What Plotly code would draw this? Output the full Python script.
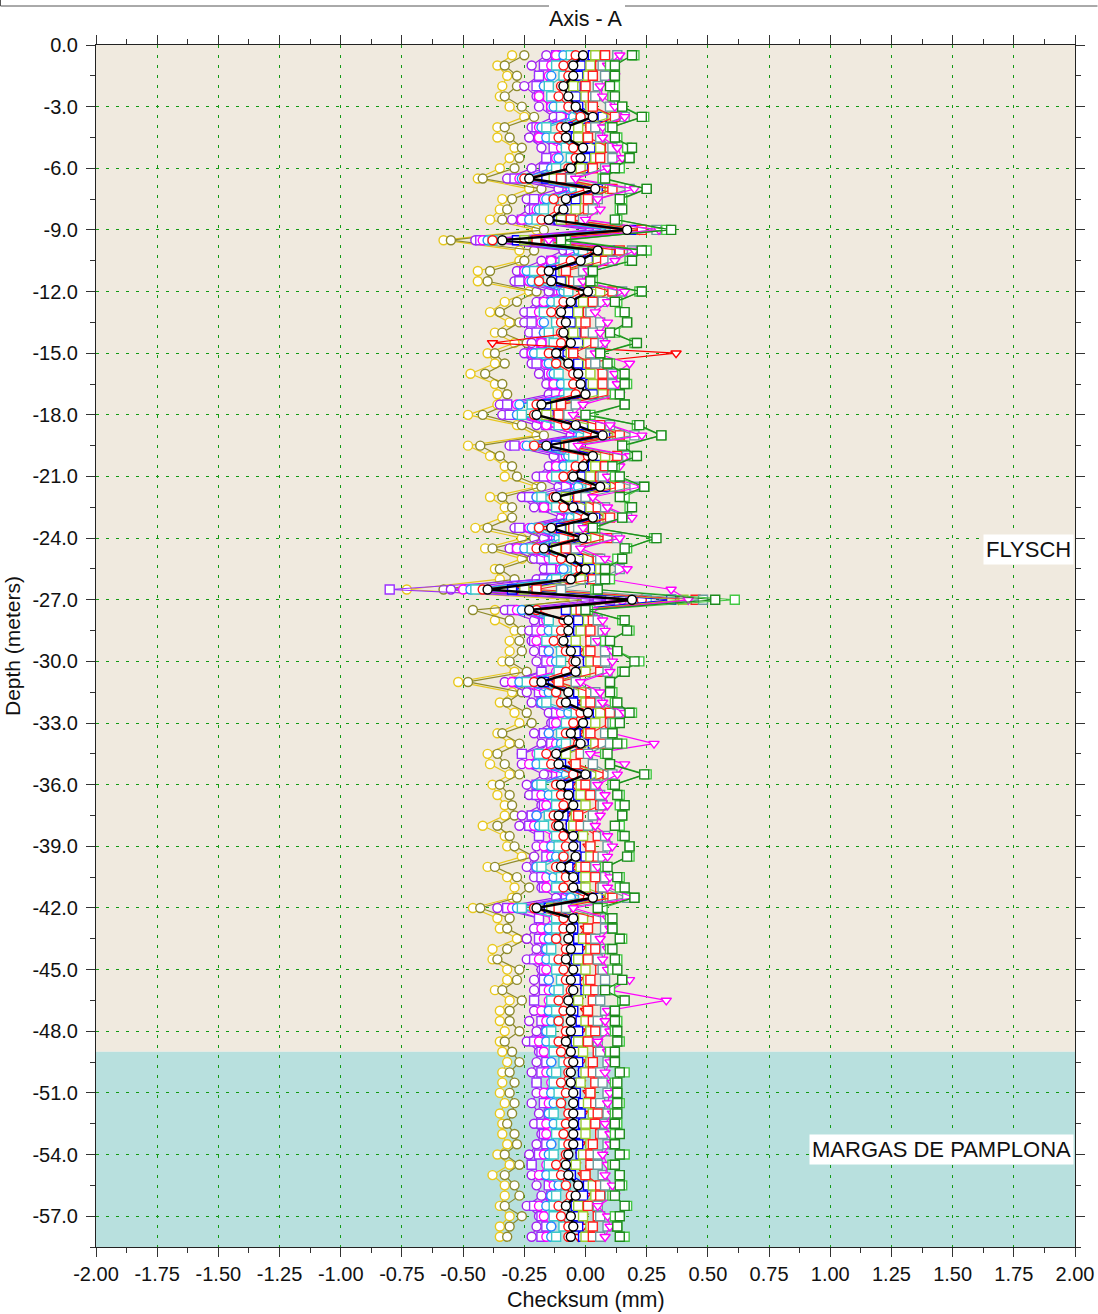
import plotly.graph_objects as go

# ---------------- data ----------------
DEPTH = [round(-0.5 * k, 1) for k in range(1, 117)]

YELLOW = [-0.30,-0.36,-0.32,-0.34,-0.35,-0.31,-0.25,-0.36,-0.36,-0.29,
 -0.31,-0.35,-0.44,-0.23,-0.34,-0.35,-0.39,-0.20,-0.58,-0.27,
 -0.27,-0.44,-0.44,-0.23,-0.33,-0.39,-0.31,-0.37,-0.29,-0.40,
 -0.37,-0.47,-0.37,-0.36,-0.36,-0.48,-0.28,-0.20,-0.48,-0.39,
 -0.33,-0.33,-0.20,-0.39,-0.33,-0.34,-0.45,-0.26,-0.41,-0.26,
 -0.37,-0.35,-0.73,-0.05,-0.37,-0.37,-0.29,-0.31,-0.31,-0.34,
 -0.29,-0.52,-0.30,-0.35,-0.29,-0.27,-0.36,-0.31,-0.40,-0.39,
 -0.31,-0.38,-0.36,-0.33,-0.33,-0.42,-0.33,-0.32,-0.26,-0.40,
 -0.32,-0.29,-0.30,-0.46,-0.36,-0.35,-0.28,-0.38,-0.38,-0.32,
 -0.32,-0.37,-0.31,-0.35,-0.35,-0.33,-0.35,-0.34,-0.32,-0.34,
 -0.34,-0.35,-0.33,-0.35,-0.34,-0.34,-0.32,-0.36,-0.31,-0.38,
 -0.33,-0.33,-0.35,-0.31,-0.35,-0.35]

OLIVE = [-0.25,-0.33,-0.28,-0.28,-0.33,-0.26,-0.21,-0.33,-0.31,-0.26,
 -0.27,-0.29,-0.42,-0.18,-0.30,-0.32,-0.34,-0.17,-0.55,-0.21,
 -0.25,-0.39,-0.40,-0.20,-0.28,-0.35,-0.27,-0.34,-0.24,-0.37,
 -0.33,-0.41,-0.34,-0.32,-0.32,-0.42,-0.26,-0.17,-0.43,-0.35,
 -0.30,-0.28,-0.18,-0.34,-0.30,-0.30,-0.40,-0.21,-0.38,-0.22,
 -0.35,-0.29,-0.58,0.00,-0.46,-0.31,-0.26,-0.27,-0.26,-0.31,
 -0.24,-0.48,-0.26,-0.32,-0.24,-0.22,-0.34,-0.27,-0.36,-0.33,
 -0.27,-0.35,-0.31,-0.30,-0.29,-0.36,-0.31,-0.29,-0.21,-0.37,
 -0.28,-0.23,-0.28,-0.43,-0.31,-0.32,-0.24,-0.32,-0.36,-0.27,
 -0.28,-0.34,-0.26,-0.31,-0.31,-0.27,-0.33,-0.30,-0.27,-0.31,
 -0.29,-0.31,-0.29,-0.30,-0.32,-0.29,-0.28,-0.33,-0.27,-0.33,
 -0.29,-0.27,-0.33,-0.26,-0.31,-0.32]

PURPLE_C = [-0.16,-0.22,-0.19,-0.25,-0.20,-0.19,-0.13,-0.22,-0.23,-0.18,
 -0.16,-0.22,-0.32,-0.11,-0.24,-0.23,-0.30,0.02,-0.45,-0.09,
 -0.18,-0.28,-0.29,-0.15,-0.20,-0.25,-0.25,-0.23,-0.22,-0.25,
 -0.22,-0.19,-0.16,-0.15,-0.35,-0.34,-0.20,-0.06,-0.31,-0.13,
 -0.15,-0.20,-0.11,-0.26,-0.21,-0.10,-0.29,-0.17,-0.31,-0.21,
 -0.17,-0.20,-0.55,0.05,-0.33,-0.21,-0.23,-0.22,-0.21,-0.20,
 -0.18,-0.33,-0.24,-0.22,-0.15,-0.14,-0.21,-0.18,-0.26,-0.26,
 -0.17,-0.24,-0.23,-0.18,-0.26,-0.27,-0.19,-0.20,-0.21,-0.24,
 -0.21,-0.18,-0.12,-0.36,-0.19,-0.21,-0.24,-0.20,-0.24,-0.18,
 -0.21,-0.21,-0.21,-0.21,-0.23,-0.20,-0.24,-0.19,-0.20,-0.22,
 -0.20,-0.20,-0.22,-0.19,-0.21,-0.18,-0.20,-0.23,-0.22,-0.22,
 -0.20,-0.18,-0.24,-0.19,-0.20,-0.22]

PURPLE_S = [-0.12,-0.17,-0.19,-0.20,-0.19,-0.14,-0.10,-0.20,-0.19,-0.13,
 -0.16,-0.17,-0.29,-0.06,-0.21,-0.21,-0.26,0.05,-0.43,-0.06,
 -0.14,-0.25,-0.27,-0.11,-0.17,-0.22,-0.22,-0.20,-0.18,-0.22,
 -0.20,-0.15,-0.13,-0.12,-0.32,-0.31,-0.16,-0.03,-0.29,-0.09,
 -0.12,-0.17,-0.08,-0.23,-0.17,-0.07,-0.27,-0.13,-0.28,-0.18,
 -0.14,-0.17,-0.80,0.10,-0.30,-0.17,-0.20,-0.21,-0.17,-0.16,
 -0.18,-0.29,-0.19,-0.18,-0.12,-0.13,-0.17,-0.14,-0.26,-0.22,
 -0.12,-0.20,-0.20,-0.17,-0.22,-0.23,-0.19,-0.16,-0.16,-0.20,
 -0.18,-0.17,-0.08,-0.32,-0.19,-0.17,-0.19,-0.16,-0.21,-0.17,
 -0.17,-0.17,-0.21,-0.17,-0.18,-0.16,-0.21,-0.18,-0.16,-0.18,
 -0.20,-0.16,-0.17,-0.15,-0.18,-0.17,-0.16,-0.19,-0.22,-0.18,
 -0.15,-0.14,-0.21,-0.18,-0.16,-0.18]

MAGENTA_C = [-0.12,-0.14,-0.15,-0.17,-0.19,-0.14,-0.06,-0.19,-0.19,-0.10,
 -0.12,-0.14,-0.27,-0.06,-0.17,-0.20,-0.26,0.08,-0.42,-0.03,
 -0.14,-0.25,-0.23,-0.10,-0.17,-0.19,-0.18,-0.17,-0.18,-0.22,
 -0.16,-0.14,-0.13,-0.09,-0.28,-0.28,-0.16,-0.03,-0.25,-0.08,
 -0.12,-0.14,-0.04,-0.20,-0.17,-0.07,-0.23,-0.12,-0.28,-0.15,
 -0.10,-0.14,-0.50,0.15,-0.28,-0.16,-0.18,-0.20,-0.15,-0.14,
 -0.12,-0.30,-0.17,-0.17,-0.10,-0.12,-0.15,-0.12,-0.20,-0.23,
 -0.10,-0.19,-0.18,-0.16,-0.20,-0.21,-0.13,-0.17,-0.14,-0.19,
 -0.16,-0.16,-0.06,-0.30,-0.13,-0.18,-0.17,-0.15,-0.19,-0.16,
 -0.15,-0.15,-0.15,-0.18,-0.16,-0.15,-0.19,-0.17,-0.14,-0.16,
 -0.14,-0.17,-0.15,-0.14,-0.16,-0.16,-0.14,-0.17,-0.16,-0.19,
 -0.13,-0.13,-0.19,-0.17,-0.14,-0.16]

BLUE_C = [-0.09,-0.12,-0.14,-0.17,-0.13,-0.13,-0.05,-0.18,-0.16,-0.08,
 -0.11,-0.14,-0.26,-0.05,-0.16,-0.19,-0.23,0.10,-0.40,-0.03,
 -0.08,-0.24,-0.22,-0.09,-0.14,-0.17,-0.17,-0.17,-0.12,-0.21,
 -0.15,-0.13,-0.10,-0.07,-0.27,-0.28,-0.10,-0.02,-0.24,-0.07,
 -0.09,-0.12,-0.03,-0.20,-0.11,-0.06,-0.22,-0.11,-0.25,-0.13,
 -0.09,-0.14,-0.47,0.20,-0.26,-0.15,-0.15,-0.16,-0.15,-0.12,
 -0.10,-0.27,-0.15,-0.18,-0.07,-0.08,-0.15,-0.10,-0.18,-0.20,
 -0.08,-0.20,-0.15,-0.12,-0.20,-0.19,-0.11,-0.14,-0.12,-0.20,
 -0.13,-0.12,-0.06,-0.28,-0.11,-0.15,-0.15,-0.16,-0.16,-0.12,
 -0.15,-0.13,-0.13,-0.15,-0.14,-0.16,-0.16,-0.13,-0.14,-0.14,
 -0.12,-0.14,-0.13,-0.15,-0.13,-0.12,-0.14,-0.15,-0.14,-0.16,
 -0.11,-0.14,-0.16,-0.13,-0.14,-0.14]

CYAN_S = [-0.06,-0.12,-0.09,-0.15,-0.14,-0.10,-0.02,-0.16,-0.13,-0.08,
 -0.06,-0.12,-0.24,-0.02,-0.13,-0.17,-0.20,0.12,-0.38,-0.01,
 -0.09,-0.21,-0.19,-0.07,-0.11,-0.17,-0.12,-0.15,-0.13,-0.18,
 -0.12,-0.11,-0.07,-0.07,-0.22,-0.26,-0.11,0.01,-0.21,-0.05,
 -0.06,-0.12,0.02,-0.18,-0.12,-0.03,-0.19,-0.09,-0.22,-0.13,
 -0.04,-0.12,-0.45,0.25,-0.22,-0.15,-0.12,-0.16,-0.10,-0.10,
 -0.11,-0.24,-0.12,-0.16,-0.04,-0.08,-0.10,-0.08,-0.19,-0.17,
 -0.05,-0.18,-0.12,-0.12,-0.15,-0.17,-0.12,-0.11,-0.09,-0.18,
 -0.10,-0.12,-0.01,-0.26,-0.12,-0.12,-0.12,-0.14,-0.13,-0.12,
 -0.10,-0.11,-0.14,-0.12,-0.11,-0.14,-0.13,-0.13,-0.09,-0.12,
 -0.13,-0.11,-0.10,-0.13,-0.10,-0.12,-0.09,-0.13,-0.15,-0.13,
 -0.08,-0.12,-0.13,-0.13,-0.09,-0.12]

RED_C = [-0.04,-0.09,-0.07,-0.10,-0.11,-0.07,-0.02,-0.10,-0.11,-0.05,
 -0.04,-0.07,-0.25,0.01,-0.13,-0.11,-0.18,0.15,-0.38,0.04,
 -0.06,-0.18,-0.19,-0.01,-0.09,-0.14,-0.10,-0.10,-0.10,-0.15,
 -0.12,-0.05,-0.05,-0.04,-0.20,-0.21,-0.08,0.04,-0.21,0.01,
 -0.04,-0.09,0.04,-0.13,-0.09,0.00,-0.19,-0.03,-0.20,-0.10,
 -0.02,-0.07,-0.42,0.23,-0.20,-0.09,-0.10,-0.13,-0.08,-0.05,
 -0.08,-0.21,-0.12,-0.10,-0.02,-0.05,-0.08,-0.03,-0.16,-0.14,
 -0.05,-0.12,-0.10,-0.09,-0.13,-0.12,-0.09,-0.08,-0.09,-0.12,
 -0.08,-0.09,0.01,-0.21,-0.09,-0.09,-0.12,-0.08,-0.11,-0.09,
 -0.08,-0.06,-0.11,-0.09,-0.11,-0.08,-0.11,-0.10,-0.07,-0.07,
 -0.10,-0.08,-0.10,-0.07,-0.08,-0.09,-0.07,-0.08,-0.12,-0.10,
 -0.08,-0.06,-0.11,-0.10,-0.07,-0.07]

RED_T = [0.04,-0.01,-0.02,-0.04,-0.03,0.02,0.06,-0.04,-0.03,0.03,
 0.01,-0.01,-0.15,0.10,-0.05,-0.05,-0.10,0.22,-0.27,0.10,
 0.02,-0.09,-0.11,0.05,-0.01,-0.06,-0.05,-0.04,-0.38,0.37,
 -0.04,0.01,0.03,0.04,-0.15,-0.15,0.00,0.13,-0.13,0.07,
 0.04,-0.01,0.09,-0.07,-0.01,0.09,-0.11,0.03,-0.12,-0.02,
 0.03,-0.01,-0.28,0.38,-0.06,-0.02,-0.02,-0.05,-0.03,0.01,
 0.00,-0.12,-0.04,-0.04,0.06,0.03,-0.03,0.03,-0.08,-0.05,
 0.03,-0.06,-0.02,-0.01,-0.08,-0.06,-0.01,0.01,-0.01,-0.06,
 0.00,-0.01,0.06,-0.15,-0.01,0.00,-0.04,-0.02,-0.03,-0.01,
 -0.03,0.00,-0.03,0.00,-0.03,-0.02,-0.03,-0.02,-0.02,-0.01,
 -0.02,0.01,-0.02,-0.01,0.00,-0.01,-0.02,-0.02,-0.04,-0.01,
 0.00,0.00,-0.03,-0.01,-0.01,-0.03]

BLUE_S = [0.03,-0.02,-0.03,-0.04,-0.04,-0.03,0.07,-0.05,-0.04,0.02,
 0.00,-0.01,-0.16,0.05,-0.04,-0.06,-0.11,0.20,-0.28,0.10,
 0.01,-0.14,-0.10,0.04,-0.02,-0.07,-0.06,-0.04,-0.03,-0.11,
 -0.03,0.00,0.02,0.03,-0.16,-0.15,-0.01,0.08,-0.12,0.06,
 0.03,-0.02,0.08,-0.07,-0.02,0.04,-0.10,0.02,-0.13,-0.03,
 0.02,-0.01,-0.30,0.35,-0.08,-0.03,-0.03,-0.06,-0.04,0.01,
 -0.01,-0.17,-0.03,-0.05,0.05,0.02,-0.04,0.03,-0.09,-0.10,
 0.04,-0.07,-0.03,-0.02,-0.09,-0.06,-0.02,-0.04,0.00,-0.07,
 -0.01,-0.02,0.05,-0.15,-0.02,-0.05,-0.03,-0.03,-0.04,-0.02,
 -0.04,0.00,-0.04,-0.05,-0.02,-0.03,-0.04,-0.03,-0.03,-0.01,
 -0.03,-0.04,-0.01,-0.02,-0.01,-0.02,-0.03,-0.02,-0.05,-0.06,
 0.01,-0.01,-0.04,-0.03,-0.03,-0.01]

YGREEN_S = [0.04,0.02,0.01,-0.05,0.00,0.02,0.11,-0.03,-0.03,0.06,
 0.04,-0.02,-0.13,0.10,0.00,-0.04,-0.10,0.23,-0.25,0.09,
 0.05,-0.09,-0.06,0.06,-0.01,-0.03,-0.02,-0.05,0.01,-0.06,
 0.01,0.02,0.03,0.07,-0.12,-0.16,0.03,0.13,-0.08,0.08,
 0.04,0.02,0.12,-0.08,0.02,0.09,-0.06,0.04,-0.12,0.01,
 0.06,-0.02,-0.25,0.40,-0.04,0.01,-0.02,-0.04,0.01,0.02,
 0.00,-0.11,-0.01,0.00,0.06,0.04,0.01,0.04,-0.08,-0.04,
 0.06,-0.02,-0.02,0.00,-0.04,-0.05,-0.01,0.02,0.02,-0.02,
 0.00,0.00,0.10,-0.14,-0.01,0.01,-0.01,0.02,-0.03,0.00,
 0.01,0.01,-0.03,0.01,0.00,0.02,-0.03,-0.01,0.02,0.00,
 -0.02,0.02,0.01,0.03,0.00,0.00,0.02,-0.01,-0.04,0.00,
 0.03,0.04,-0.03,-0.01,0.02,0.00]

RED_S = [0.08,0.06,0.03,0.00,0.03,0.03,0.12,0.02,0.01,0.10,
 0.06,0.03,-0.10,0.11,0.01,0.01,-0.06,0.23,-0.20,0.14,
 0.08,-0.08,-0.05,0.11,0.03,0.01,0.00,0.00,0.04,-0.05,
 0.02,0.07,0.07,0.11,-0.10,-0.11,0.06,0.14,-0.07,0.13,
 0.08,0.06,0.14,-0.03,0.05,0.10,-0.05,0.09,-0.08,0.05,
 0.08,0.03,-0.20,0.45,-0.02,0.03,0.02,0.02,0.02,0.05,
 0.06,-0.11,0.02,0.02,0.10,0.10,0.02,0.07,-0.02,-0.04,
 0.09,0.00,0.02,0.06,-0.03,-0.02,0.05,0.02,0.05,0.00,
 0.04,0.06,0.11,-0.11,0.05,0.01,0.02,0.04,0.01,0.06,
 0.02,0.04,0.03,0.01,0.03,0.04,0.01,0.05,0.03,0.03,
 0.04,0.02,0.04,0.05,0.04,0.06,0.03,0.02,0.02,0.00,
 0.06,0.06,0.01,0.05,0.03,0.03]

SLATE_S = [0.13,0.07,0.08,0.05,0.04,0.10,0.16,0.04,0.06,0.11,
 0.11,0.08,-0.06,0.18,0.05,0.03,-0.01,0.29,-0.15,0.19,
 0.11,-0.01,-0.03,0.15,0.07,0.02,0.06,0.03,0.07,0.02,
 0.04,0.11,0.11,0.12,-0.04,-0.07,0.10,0.20,-0.05,0.17,
 0.12,0.07,0.20,0.00,0.08,0.17,-0.03,0.13,-0.04,0.06,
 0.14,0.06,-0.10,0.48,0.02,0.05,0.07,0.04,0.08,0.08,
 0.09,-0.04,0.04,0.06,0.14,0.11,0.08,0.10,0.01,0.03,
 0.11,0.04,0.06,0.07,0.03,0.01,0.08,0.09,0.07,0.04,
 0.08,0.07,0.17,-0.08,0.08,0.08,0.04,0.08,0.05,0.07,
 0.08,0.07,0.06,0.08,0.05,0.08,0.05,0.06,0.09,0.06,
 0.07,0.09,0.06,0.09,0.08,0.07,0.09,0.05,0.05,0.07,
 0.08,0.10,0.05,0.06,0.09,0.06]

MAGENTA_T = [0.14,0.09,0.12,0.06,0.07,0.12,0.16,0.07,0.07,0.13,
 0.15,0.09,-0.04,0.20,0.05,0.06,0.00,0.30,-0.15,0.20,
 0.12,0.01,-0.01,0.16,0.09,0.04,0.09,0.06,0.08,0.04,
 0.18,0.12,0.13,0.14,-0.01,-0.05,0.10,0.23,-0.03,0.18,
 0.14,0.09,0.23,0.03,0.09,0.19,-0.01,0.14,-0.02,0.08,
 0.17,0.09,0.35,0.42,0.03,0.07,0.08,0.05,0.11,0.11,
 0.10,-0.02,0.06,0.07,0.16,0.13,0.11,0.28,0.02,0.16,
 0.13,0.05,0.08,0.09,0.06,0.04,0.09,0.11,0.09,0.05,
 0.10,0.09,0.20,-0.05,0.09,0.10,0.06,0.09,0.07,0.09,
 0.18,0.10,0.33,0.09,0.08,0.10,0.05,0.09,0.10,0.08,
 0.11,0.10,0.09,0.11,0.08,0.10,0.10,0.07,0.09,0.08,
 0.11,0.12,0.05,0.09,0.10,0.08]

LIME_S = [0.20,0.10,0.12,0.12,0.11,0.15,0.24,0.10,0.13,0.17,
 0.18,0.14,0.07,0.25,0.15,0.14,0.13,0.33,-0.08,0.25,
 0.18,0.03,0.03,0.22,0.13,0.14,0.17,0.12,0.20,0.06,
 0.10,0.15,0.17,0.12,0.16,0.02,0.21,0.31,0.16,0.20,
 0.12,0.12,0.24,0.16,0.18,0.15,0.04,0.28,0.17,0.13,
 0.08,0.10,0.04,0.61,0.01,0.15,0.18,0.08,0.13,0.22,
 0.15,0.10,0.11,0.12,0.19,0.12,0.11,0.15,0.08,0.10,
 0.25,0.11,0.14,0.14,0.15,0.14,0.15,0.18,0.18,0.08,
 0.14,0.14,0.20,0.07,0.10,0.11,0.15,0.10,0.13,0.11,
 0.15,0.10,0.15,0.12,0.13,0.12,0.14,0.10,0.12,0.16,
 0.12,0.13,0.14,0.12,0.13,0.12,0.12,0.16,0.11,0.14,
 0.15,0.11,0.17,0.12,0.13,0.16]

GREEN_S = [0.19,0.12,0.12,0.10,0.12,0.15,0.23,0.11,0.12,0.19,
 0.18,0.12,0.08,0.25,0.14,0.15,0.12,0.35,-0.10,0.23,
 0.19,0.03,0.02,0.23,0.12,0.16,0.17,0.10,0.21,0.06,
 0.09,0.16,0.16,0.14,0.16,0.00,0.22,0.31,0.15,0.21,
 0.11,0.14,0.24,0.14,0.19,0.15,0.03,0.29,0.16,0.15,
 0.08,0.08,0.05,0.53,0.00,0.16,0.17,0.10,0.13,0.20,
 0.16,0.10,0.10,0.13,0.18,0.14,0.11,0.13,0.09,0.10,
 0.24,0.12,0.13,0.16,0.15,0.12,0.16,0.18,0.17,0.09,
 0.13,0.16,0.20,0.05,0.11,0.11,0.14,0.11,0.12,0.13,
 0.15,0.08,0.16,0.12,0.12,0.13,0.13,0.12,0.12,0.14,
 0.13,0.13,0.13,0.13,0.12,0.14,0.12,0.14,0.12,0.14,
 0.14,0.12,0.16,0.14,0.13,0.14]

BLACK_C = [-0.01,-0.05,-0.05,-0.09,-0.07,-0.04,0.03,-0.08,-0.08,-0.01,
 -0.02,-0.06,-0.23,0.04,-0.08,-0.09,-0.15,0.17,-0.34,0.05,
 -0.02,-0.15,-0.14,0.01,-0.06,-0.10,-0.08,-0.09,-0.06,-0.12,
 -0.07,-0.03,-0.02,0.00,-0.18,-0.20,-0.04,0.07,-0.16,0.03,
 -0.01,-0.05,0.06,-0.12,-0.05,0.03,-0.14,-0.01,-0.17,-0.06,
 0.00,-0.06,-0.40,0.19,-0.23,-0.07,-0.07,-0.09,-0.06,-0.04,
 -0.04,-0.18,-0.07,-0.08,0.01,-0.01,-0.06,-0.02,-0.12,-0.11,
 0.00,-0.10,-0.07,-0.05,-0.11,-0.11,-0.05,-0.05,-0.04,-0.10,
 -0.05,-0.05,0.03,-0.20,-0.05,-0.06,-0.07,-0.06,-0.08,-0.05,
 -0.06,-0.05,-0.07,-0.06,-0.06,-0.06,-0.08,-0.06,-0.05,-0.06,
 -0.06,-0.05,-0.05,-0.05,-0.05,-0.05,-0.05,-0.07,-0.08,-0.07,
 -0.03,-0.04,-0.08,-0.06,-0.05,-0.06]

XTICKS = [-2.0,-1.75,-1.5,-1.25,-1.0,-0.75,-0.5,-0.25,0.0,0.25,0.5,0.75,1.0,1.25,1.5,1.75,2.0]
XTICKTEXT = ["-2.00","-1.75","-1.50","-1.25","-1.00","-0.75","-0.50","-0.25","0.00",
             "0.25","0.50","0.75","1.00","1.25","1.50","1.75","2.00"]
YTICKS = [0,-3,-6,-9,-12,-15,-18,-21,-24,-27,-30,-33,-36,-39,-42,-45,-48,-51,-54,-57]
YTICKTEXT = ["0.0","-3.0","-6.0","-9.0","-12.0","-15.0","-18.0","-21.0","-24.0","-27.0",
             "-30.0","-33.0","-36.0","-39.0","-42.0","-45.0","-48.0","-51.0","-54.0","-57.0"]

LAYER_NAMES = ["FLYSCH", "MARGAS DE PAMPLONA"]
LAYER_TOP = [0.0, -49.0]
LAYER_BOTTOM = [-49.0, -58.5]
LAYER_LABEL_DEPTH = [-24.57, -53.77]

# ---------------- styles ----------------
STYLES = [
    (YELLOW, "#E8C81C", "circle", 1.2),
    (OLIVE, "#8E8B2C", "circle", 1.2),
    (PURPLE_C, "#A020F0", "circle", 1.2),
    (PURPLE_S, "#9B30FF", "square", 1.2),
    (MAGENTA_C, "#FF00FF", "circle", 1.2),
    (BLUE_C, "#1E90FF", "circle", 1.2),
    (CYAN_S, "#3CC8C8", "square", 1.2),
    (RED_C, "#FF1010", "circle", 1.2),
    (RED_T, "#FF0000", "triangle-down", 1.2),
    (BLUE_S, "#0000FF", "square", 1.2),
    (YGREEN_S, "#9ACD32", "square", 1.2),
    (RED_S, "#FF2020", "square", 1.2),
    (SLATE_S, "#6C9A9C", "square", 1.2),
    (MAGENTA_T, "#FF00FF", "triangle-down", 1.2),
    (LIME_S, "#44C844", "square", 1.2),
    (GREEN_S, "#1E8C1E", "square", 1.2),
    (BLACK_C, "#000000", "circle", 2.4),
]
LAYER_COLORS = ["#F0EADF", "#B8E0DE"]

fig = go.Figure()
for vals, color, sym, lw in STYLES:
    fig.add_trace(go.Scatter(
        x=vals, y=DEPTH, mode="lines+markers",
        line=dict(color=color, width=lw),
        marker=dict(symbol=sym, size=9, color="white",
                    line=dict(color=color, width=1.4)),
        showlegend=False, hoverinfo="skip",
    ))

shapes = []
for top, bot, col in zip(LAYER_TOP, LAYER_BOTTOM, LAYER_COLORS):
    shapes.append(dict(type="rect", xref="x domain", yref="y", x0=0, x1=1,
                       y0=bot, y1=top, fillcolor=col, line=dict(width=0),
                       layer="below"))

# group-box frame at top of the figure (pixel -> paper conversion)
L, R, T, B, W, H = 96, 1075, 45, 1247, 1098, 1314
def px(x):
    return (x - L) / (R - L)
def py(y):
    return (B - y) / (B - T)
for x0, x1 in [(0.5, 549), (625, 1097.5)]:
    shapes.append(dict(type="line", xref="paper", yref="paper",
                       x0=px(x0), x1=px(x1), y0=py(6), y1=py(6),
                       line=dict(color="#555555", width=1)))
shapes.append(dict(type="line", xref="paper", yref="paper",
                   x0=px(0.5), x1=px(0.5), y0=py(0), y1=py(6),
                   line=dict(color="#555555", width=1)))

annotations = []
for name, yd in zip(LAYER_NAMES, LAYER_LABEL_DEPTH):
    annotations.append(dict(text=name, xref="paper", yref="y", x=1, y=yd,
                            xanchor="right", yanchor="middle", xshift=-1,
                            showarrow=False, bgcolor="white", borderpad=2,
                            font=dict(size=22, color="#111111")))
annotations.append(dict(text="Axis - A", xref="paper", yref="paper",
                        x=0.5, y=py(19), xanchor="center", yanchor="middle",
                        showarrow=False, font=dict(size=21.5, color="#111111")))
annotations.append(dict(text="Checksum (mm)", xref="paper", yref="paper",
                        x=0.5, y=py(1300), xanchor="center", yanchor="middle",
                        showarrow=False, font=dict(size=21.5, color="#111111")))
annotations.append(dict(text="Depth (meters)", xref="paper", yref="paper",
                        x=px(12), y=0.5, xanchor="center", yanchor="middle",
                        textangle=-90, showarrow=False,
                        font=dict(size=21, color="#111111")))

grid = dict(showgrid=True, gridcolor="#139A13", gridwidth=1, griddash="3px,7px")
fig.update_layout(
    width=W, height=H, autosize=False,
    margin=dict(l=L, r=W - R, t=T, b=H - B, pad=0, autoexpand=False),
    paper_bgcolor="white", plot_bgcolor="white",
    font=dict(family="Liberation Sans, Arial, sans-serif", size=20, color="#111111"),
    shapes=shapes, annotations=annotations, showlegend=False,
    xaxis=dict(range=[-2, 2], tickmode="array", tickvals=XTICKS, ticktext=XTICKTEXT,
               ticks="outside", ticklen=9, tickcolor="#333333", tickwidth=1,
               minor=dict(tickmode="linear", tick0=0, dtick=0.125, ticks="outside",
                          ticklen=5, tickcolor="#333333", showgrid=False),
               showline=True, linecolor="#222222", linewidth=1, mirror="ticks",
               zeroline=False, automargin=False, **grid),
    yaxis=dict(range=[-58.5, 0], tickmode="array", tickvals=YTICKS, ticktext=YTICKTEXT,
               ticks="outside", ticklen=9, tickcolor="#333333", tickwidth=1,
               ticklabelstandoff=4,
               minor=dict(tickmode="linear", tick0=0, dtick=1.5, ticks="outside",
                          ticklen=5, tickcolor="#333333", showgrid=False),
               showline=True, linecolor="#222222", linewidth=1, mirror="ticks",
               zeroline=False, automargin=False, **grid),
)

fig.write_html("out.html",
               config={"displayModeBar": False, "responsive": False},
               post_script="document.body.style.margin='0px';document.body.style.overflow='hidden';")
